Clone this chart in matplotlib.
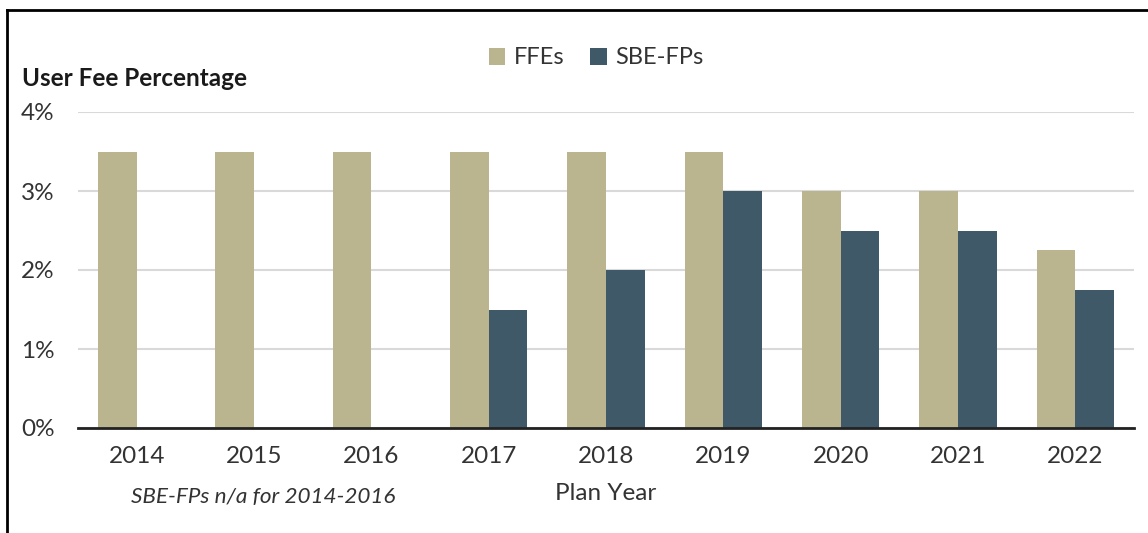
import matplotlib
matplotlib.use("Agg")
import matplotlib.pyplot as plt
import numpy as np
from matplotlib.lines import Line2D

years = ["2014", "2015", "2016", "2017", "2018", "2019", "2020", "2021", "2022"]
ffes = [3.5, 3.5, 3.5, 3.5, 3.5, 3.5, 3.0, 3.0, 2.25]
sbe_fps = [np.nan, np.nan, np.nan, 1.5, 2.0, 3.0, 2.5, 2.5, 1.75]
yticks = [0, 1, 2, 3, 4]
ytick_labels = ["0%", "1%", "2%", "3%", "4%"]

c_ffe = "#BAB58E"
c_sbe = "#405968"

plt.rcParams['font.family'] = ['Lato', 'DejaVu Sans']

fig = plt.figure(figsize=(11.48, 5.33), dpi=100)
ax = fig.add_axes([78/1148, 1-428/533, (1134-78)/1148, (428-112)/533])

x = np.arange(len(years))
w = 0.33
ax.bar(x - w/2, ffes, width=w, color=c_ffe, label="FFEs", zorder=3)
ax.bar(x + w/2, sbe_fps, width=w, color=c_sbe, label="SBE-FPs", zorder=3)

ax.set_xlim(-0.5, len(years) - 0.5)
ax.set_ylim(0, 4)
ax.set_yticks(yticks)
ax.set_yticklabels(ytick_labels, fontsize=17.5, color="#333333")
ax.set_xticks(x)
ax.set_xticklabels(years, fontsize=17.5, color="#333333")
ax.tick_params(axis="both", length=0)
ax.tick_params(axis="y", pad=17)
ax.tick_params(axis="x", pad=13)

ax.grid(axis="y", color="#D9D9D9", linewidth=1.5, zorder=0)
for s in ["top", "right", "left"]:
    ax.spines[s].set_visible(False)
ax.spines["bottom"].set_color("#222222")
ax.spines["bottom"].set_linewidth(2)
ax.spines["bottom"].set_zorder(4)

fig.text(22/1148, 1-78/533, "User Fee Percentage", fontsize=17.5, fontweight="bold",
         ha="left", va="center", color="#1a1a1a")
fig.text(606/1148, 1-494/533, "Plan Year", fontsize=17.5, ha="center", va="center", color="#333333")
fig.text(263/1148, 1-497/533, "SBE-FPs n/a for 2014-2016", fontsize=16.2, style="italic",
         ha="center", va="center", color="#333333")

leg = fig.legend(loc="center", bbox_to_anchor=(596/1148, 1-58/533), ncol=2, frameon=False,
                 fontsize=17, handlelength=0.7, handleheight=0.7, columnspacing=1.1,
                 handletextpad=0.35, borderpad=0)
for t in leg.get_texts():
    t.set_color("#333333")

fig.add_artist(Line2D([7/1148, 7/1148], [0, 1-10/533], color="black", linewidth=2, transform=fig.transFigure))
fig.add_artist(Line2D([7/1148, 1], [1-10/533, 1-10/533], color="black", linewidth=2, transform=fig.transFigure))

fig.savefig("out.png", dpi=100)
